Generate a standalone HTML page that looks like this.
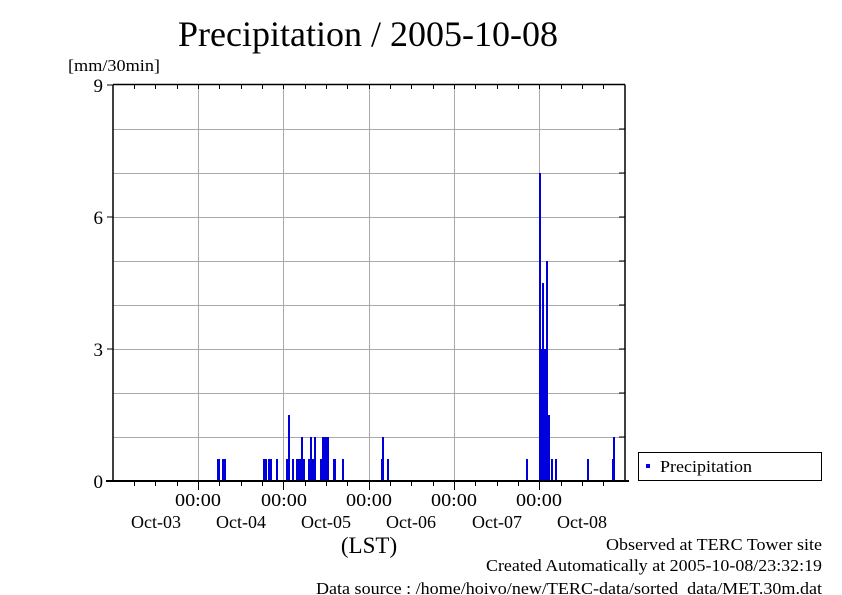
<!DOCTYPE html>
<html><head><style>body{margin:0;background:#fff}svg{display:block}</style></head><body>
<svg width="842" height="595" xmlns="http://www.w3.org/2000/svg" font-family="Liberation Serif, serif">
<rect width="842" height="595" fill="#fff"/>
<text x="368" y="46" font-size="36" text-anchor="middle" textLength="380" lengthAdjust="spacingAndGlyphs">Precipitation / 2005-10-08</text>
<text x="68" y="71" font-size="17" textLength="92" lengthAdjust="spacingAndGlyphs">[mm/30min]</text>
<g stroke="#aaa" stroke-width="1">
<line x1="113" y1="129.5" x2="625" y2="129.5"/><line x1="113" y1="173.5" x2="625" y2="173.5"/><line x1="113" y1="217.5" x2="625" y2="217.5"/><line x1="113" y1="261.5" x2="625" y2="261.5"/><line x1="113" y1="305.5" x2="625" y2="305.5"/><line x1="113" y1="349.5" x2="625" y2="349.5"/><line x1="113" y1="393.5" x2="625" y2="393.5"/><line x1="113" y1="437.5" x2="625" y2="437.5"/>
<line x1="198.5" y1="85" x2="198.5" y2="481"/><line x1="283.5" y1="85" x2="283.5" y2="481"/><line x1="369.5" y1="85" x2="369.5" y2="481"/><line x1="454.5" y1="85" x2="454.5" y2="481"/><line x1="539.5" y1="85" x2="539.5" y2="481"/>
</g>
<g fill="#0000dd">
<rect x="217" y="459" width="3" height="22"/><rect x="222" y="459" width="4" height="22"/>
<rect x="263" y="459" width="4" height="22"/><rect x="268" y="459" width="4" height="22"/><rect x="276" y="459" width="2" height="22"/>
<rect x="286" y="459" width="2" height="22"/><rect x="288" y="415" width="2" height="66"/><rect x="292" y="459" width="2" height="22"/><rect x="296" y="459" width="2" height="22"/><rect x="298" y="459" width="3" height="22"/><rect x="301" y="437" width="2" height="44"/><rect x="303" y="459" width="2" height="22"/>
<rect x="308" y="459" width="2" height="22"/><rect x="310" y="437" width="2" height="44"/><rect x="312" y="459" width="2" height="22"/><rect x="314" y="437" width="2" height="44"/>
<rect x="320" y="459" width="2" height="22"/><rect x="322" y="437" width="7" height="44"/>
<rect x="333" y="459" width="3" height="22"/><rect x="342" y="459" width="2" height="22"/>
<rect x="381" y="459" width="2" height="22"/><rect x="382" y="437" width="2" height="44"/><rect x="387" y="459" width="2" height="22"/>
<rect x="526" y="459" width="2" height="22"/>
<rect x="539" y="173" width="2" height="308"/><rect x="541" y="349" width="1" height="132"/><rect x="542" y="283" width="2" height="198"/><rect x="544" y="349" width="2" height="132"/><rect x="546" y="261" width="2" height="220"/><rect x="548" y="415" width="2" height="66"/>
<rect x="551" y="459" width="2" height="22"/><rect x="555" y="459" width="2" height="22"/>
<rect x="587" y="459" width="2" height="22"/>
<rect x="612" y="459" width="2" height="22"/><rect x="613" y="437" width="2" height="44"/>
</g>
<g stroke="#000" stroke-width="1.5" fill="none">
<line x1="113" y1="84.5" x2="625" y2="84.5"/><line x1="625" y1="84.5" x2="625" y2="481"/><line x1="113" y1="84.5" x2="113" y2="481"/>
</g>
<line x1="106" y1="481" x2="629" y2="481" stroke="#000" stroke-width="2"/>
<g stroke="#000" stroke-width="1">
<line x1="107" y1="85" x2="113" y2="85"/><line x1="107" y1="217" x2="113" y2="217"/><line x1="107" y1="349" x2="113" y2="349"/>
<line x1="619" y1="217" x2="625" y2="217"/><line x1="619" y1="349" x2="625" y2="349"/><line x1="619" y1="129" x2="625" y2="129"/><line x1="619" y1="173" x2="625" y2="173"/><line x1="619" y1="261" x2="625" y2="261"/><line x1="619" y1="305" x2="625" y2="305"/><line x1="619" y1="393" x2="625" y2="393"/><line x1="619" y1="437" x2="625" y2="437"/>
</g>
<g stroke="#000" stroke-width="1">
<path d="M134.5 481v5M155.5 481v5M177.5 481v5M198.5 481v9M219.5 481v5M241.5 481v5M262.5 481v5M283.5 481v9M305.5 481v5M326.5 481v5M347.5 481v5M369.5 481v9M390.5 481v5M411.5 481v5M433.5 481v5M454.5 481v9M475.5 481v5M497.5 481v5M518.5 481v5M539.5 481v9M561.5 481v5M582.5 481v5M603.5 481v5"/>
<path d="M134.5 85v4M155.5 85v4M177.5 85v4M198.5 85v4M219.5 85v4M241.5 85v4M262.5 85v4M283.5 85v4M305.5 85v4M326.5 85v4M347.5 85v4M369.5 85v4M390.5 85v4M411.5 85v4M433.5 85v4M454.5 85v4M475.5 85v4M497.5 85v4M518.5 85v4M539.5 85v4M561.5 85v4M582.5 85v4M603.5 85v4"/>
</g>
<g font-size="19" text-anchor="end"><text x="103" y="92">9</text><text x="103" y="224">6</text><text x="103" y="356">3</text><text x="103" y="488">0</text></g>
<g font-size="18" text-anchor="middle">
<text x="198" y="506" textLength="46" lengthAdjust="spacingAndGlyphs">00:00</text><text x="284" y="506" textLength="46" lengthAdjust="spacingAndGlyphs">00:00</text><text x="369" y="506" textLength="46" lengthAdjust="spacingAndGlyphs">00:00</text><text x="454" y="506" textLength="46" lengthAdjust="spacingAndGlyphs">00:00</text><text x="539" y="506" textLength="46" lengthAdjust="spacingAndGlyphs">00:00</text>
<text x="156" y="528">Oct-03</text><text x="241" y="528">Oct-04</text><text x="326" y="528">Oct-05</text><text x="411" y="528">Oct-06</text><text x="497" y="528">Oct-07</text><text x="582" y="528">Oct-08</text>
<text x="369" y="553" font-size="23">(LST)</text>
</g>
<rect x="638.5" y="452.5" width="183" height="28" fill="#fff" stroke="#000"/>
<rect x="646" y="464" width="4" height="4" fill="#0000dd"/>
<text x="660" y="472" font-size="17" textLength="92" lengthAdjust="spacingAndGlyphs">Precipitation</text>
<g font-size="17" text-anchor="end">
<text x="822" y="550" textLength="216" lengthAdjust="spacingAndGlyphs">Observed at TERC Tower site</text>
<text x="822" y="571" textLength="336" lengthAdjust="spacingAndGlyphs">Created Automatically at 2005-10-08/23:32:19</text>
<text x="822" y="594" textLength="506" lengthAdjust="spacingAndGlyphs">Data source : /home/hoivo/new/TERC-data/sorted&#160; data/MET.30m.dat</text>
</g>
</svg>
</body></html>
